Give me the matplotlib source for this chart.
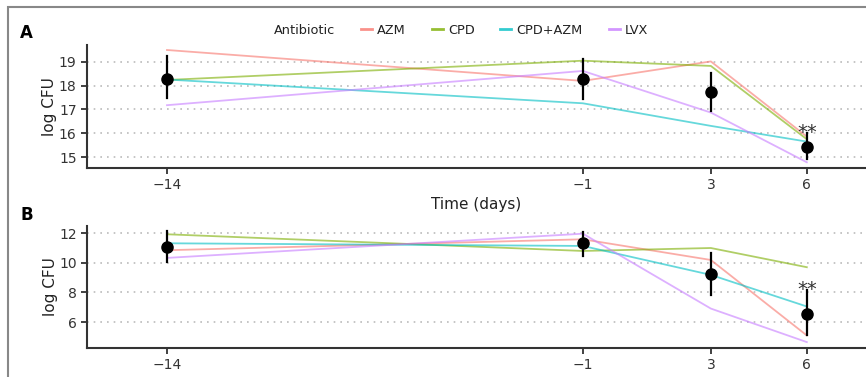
import matplotlib
matplotlib.use('Agg')
from matplotlib import pyplot as plt
from matplotlib.lines import Line2D
from matplotlib.patches import Rectangle

# time points (days)
days = [-14, -1, 3, 6]
drugs = ['AZM', 'CPD', 'CPD+AZM', 'LVX']
drug_colors = ['#F8766D', '#7CAE00', '#00BFC4', '#C77CFF']

# panel A: log CFU per antibiotic
a_azm = [19.5, 18.2, 19.02, 15.86]
a_cpd = [18.24, 19.05, 18.83, 15.75]
a_cpdazm = [18.26, 17.26, 16.31, 15.65]
a_lvx = [17.18, 18.62, 16.87, 14.78]
a_mean = [18.28, 18.27, 17.74, 15.44]
a_lo = [17.5, 17.43, 16.95, 14.9]
a_hi = [19.25, 19.13, 18.55, 16.0]

# panel B
b_azm = [10.86, 11.6, 10.2, 5.09]
b_cpd = [11.94, 10.81, 11.01, 9.71]
b_cpdazm = [11.33, 11.15, 9.19, 7.05]
b_lvx = [10.34, 11.98, 6.91, 4.64]
b_mean = [11.06, 11.37, 9.26, 6.57]
b_lo = [10.05, 10.47, 7.82, 5.09]
b_hi = [12.18, 12.1, 10.65, 8.18]

a_ticks = [15, 16, 17, 18, 19]
b_ticks = [6, 8, 10, 12]

fig = plt.figure(figsize=(8.66, 3.77), dpi=100)
fig.patch.set_facecolor('white')

# outer frame of the original figure
fig.patches.append(Rectangle((8 / 866, -0.05), 1.0, 1 - 7 / 377 + 0.05, transform=fig.transFigure,
                             fill=False, edgecolor='#888888', linewidth=1.5))

axA = fig.add_axes([87 / 866, 1 - 168 / 377, 1 - 87 / 866, 123 / 377])
axB = fig.add_axes([87 / 866, 1 - 348 / 377, 1 - 87 / 866, 122 / 377])


def draw_panel(ax, series, mean, lo, hi, ticks, ylim):
    for vals, c in zip(series, drug_colors):
        ax.plot(days, vals, color=c, alpha=0.6, linewidth=1.3, zorder=2)
    for d, m, l, h in zip(days, mean, lo, hi):
        ax.plot([d, d], [l, h], color='black', linewidth=1.6, zorder=3)
    ax.plot(days, mean, 'o', color='black', markersize=8, zorder=4)
    ax.annotate('**', xy=(days[-1], hi[-1]), xytext=(0.5, -3.5), textcoords='offset points',
                ha='center', va='baseline', fontsize=14, color='#333333')
    ax.set_xlim(-16.5, 7.85)
    ax.set_ylim(*ylim)
    ax.set_xticks(days)
    ax.set_xticklabels(['\u221214', '\u22121', '3', '6'])
    ax.set_yticks(ticks)
    for t in ticks:
        ax.axhline(t, color='#BBBBBB', linestyle=(0, (1, 3)), linewidth=1.2, zorder=1)
    for s in ['top', 'right']:
        ax.spines[s].set_visible(False)
    for s in ['left', 'bottom']:
        ax.spines[s].set_color('#333333')
        ax.spines[s].set_linewidth(1.5)
    ax.tick_params(colors='#333333', labelsize=10, length=4, width=1.3)
    ax.set_ylabel('log CFU', fontsize=11, color='#222222', labelpad=1)
    ax.set_facecolor('none')


draw_panel(axA, [a_azm, a_cpd, a_cpdazm, a_lvx], a_mean, a_lo, a_hi, a_ticks, (14.54, 19.71))
draw_panel(axB, [b_azm, b_cpd, b_cpdazm, b_lvx], b_mean, b_lo, b_hi, b_ticks, (4.24, 12.5))

axA.set_xlabel('Time (days)', fontsize=11, color='#222222', labelpad=3)
axB.set_xlabel('Time (days)', fontsize=11, color='#222222', labelpad=3)

fig.text(20 / 866, 1 - 33 / 377, 'A', fontsize=12, fontweight='bold', va='center')
fig.text(20 / 866, 1 - 215 / 377, 'B', fontsize=12, fontweight='bold', va='center')

fig.text(274 / 866, 1 - 30 / 377, 'Antibiotic', fontsize=9.3, color='#222222', va='center')
handles = [Line2D([], [], color=c, alpha=0.8, linewidth=2) for c in drug_colors]
fig.legend(handles, drugs, loc='center left', bbox_to_anchor=(361 / 866, 1 - 30 / 377), ncol=4,
           frameon=False, fontsize=9.3, handlelength=0.85, handletextpad=0.4, columnspacing=2.0,
           labelcolor='#222222', borderpad=0, borderaxespad=0)

plt.savefig('out.png', dpi=100)
plt.close()
